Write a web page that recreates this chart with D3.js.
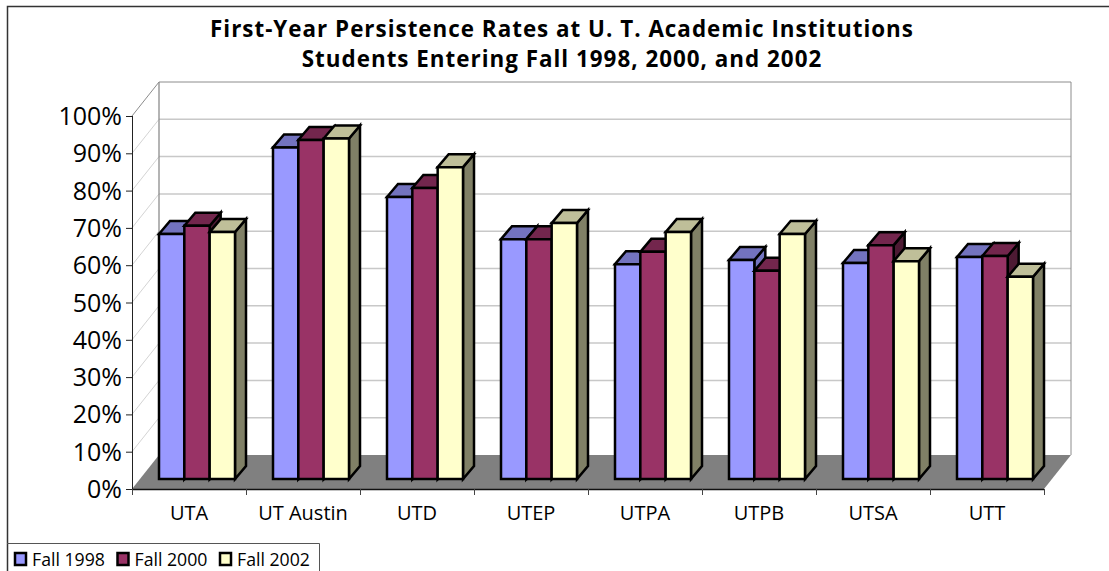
<!DOCTYPE html>
<html><head><meta charset="utf-8">
<script src="https://cdn.jsdelivr.net/npm/d3@7"></script>
<style>html,body{margin:0;padding:0;background:#fff;overflow:hidden}svg{display:block}</style>
</head><body><svg id="c" width="1109" height="571" font-family="'Open Sans','Noto Sans',sans-serif"></svg>
<script>
const titleLines = ["First-Year Persistence Rates at U. T. Academic Institutions","Students Entering Fall 1998, 2000, and 2002"];
const categories = ["UTA","UT Austin","UTD","UTEP","UTPA","UTPB","UTSA","UTT"];
const seriesNames = ["Fall 1998","Fall 2000","Fall 2002"];
const fall1998 = [65.7,88.9,75.6,64.3,57.6,58.7,57.9,59.5];
const fall2000 = [67.9,90.9,78.0,64.3,60.9,55.8,62.7,59.8];
const fall2002 = [66.2,91.3,83.6,68.6,66.2,65.7,58.4,54.2];
const seriesValues = [fall1998,fall2000,fall2002];
const yTicks = [0,10,20,30,40,50,60,70,80,90,100];
const frontColors = ["#9999ff","#993366","#ffffcc"];
const topColors = ["#7373bf","#73264d","#bfbf99"];
const sideColors = ["#7373bf","#4d1a33","#808066"];

const svg = d3.select("#c");
const x = d3.scaleBand().domain(categories).range([132,1044]).paddingInner(0).paddingOuter(0);
const y = d3.scaleLinear().domain([0,100]).range([489,116]);
const wallDx = 27, wallDy = -34, barInsetX = 8, barInsetY = -10, barDx = 11, barDy = -13;
const groupGap = 19;
const inner = d3.scaleBand().domain(d3.range(3)).range([groupGap, x.bandwidth()-groupGap]);

svg.append("path").attr("d","M7.5,571V6.5H1109").attr("fill","none").attr("stroke","#333").attr("stroke-width",1.5);
const x0=x.range()[0], x1=x.range()[1];
svg.append("rect").attr("x",x0+wallDx).attr("y",y(100)+wallDy).attr("width",x1-x0).attr("height",y(0)-y(100)).attr("fill","#fff");
const grid = svg.append("g");
yTicks.slice(1,-1).forEach(t=>{
  grid.append("line").attr("x1",x0).attr("y1",y(t)).attr("x2",x0+wallDx).attr("y2",y(t)+wallDy).attr("stroke","#d4d4d4").attr("stroke-width",1);
  grid.append("line").attr("x1",x0+wallDx).attr("y1",y(t)+wallDy).attr("x2",x1+wallDx).attr("y2",y(t)+wallDy).attr("stroke","#c8c8c8").attr("stroke-width",1.5);
});
svg.append("polygon").attr("points",[[x0,y(0)],[x0+wallDx,y(0)+wallDy],[x1+wallDx,y(0)+wallDy],[x1,y(0)]].join(" ")).attr("fill","#808080");
svg.append("path").attr("d",`M${x0},${y(100)}L${x0+wallDx},${y(100)+wallDy}H${x1+wallDx}V${y(0)+wallDy}`).attr("fill","none").attr("stroke","#8c8c8c").attr("stroke-width",1);
svg.append("path").attr("d",`M${x0+wallDx},${y(100)+wallDy}V${y(0)+wallDy}`).attr("fill","none").attr("stroke","#8c8c8c").attr("stroke-width",1.3);
categories.forEach((c,i)=>{
  const g = svg.append("g");
  seriesValues.forEach((vals,s)=>{
    const v = vals[i];
    const L = x(c)+inner(s)+barInsetX, W = inner.bandwidth();
    const B = y(0)+barInsetY, T = B-(y(0)-y(v));
    const add=(pts,fill)=>g.append("polygon").attr("points",pts.join(" ")).attr("fill",fill).attr("stroke","#000").attr("stroke-width",2.5).attr("stroke-linejoin","miter");
    add([[L+W,B],[L+W,T],[L+W+barDx,T+barDy],[L+W+barDx,B+barDy]],sideColors[s]);
    add([[L,T],[L+barDx,T+barDy],[L+W+barDx,T+barDy],[L+W,T]],topColors[s]);
    add([[L,T],[L+W,T],[L+W,B],[L,B]],frontColors[s]);
  });
});
const yAxis = d3.axisLeft(y).tickValues(yTicks).tickFormat(d=>d+"%").tickSize(6).tickPadding(4);
const ya = svg.append("g").attr("transform",`translate(${x0},0)`).call(yAxis);
ya.select(".domain").attr("d",`M0.5,${y(100)}V${y(0)}`).attr("stroke","#222");
ya.selectAll(".tick line").attr("stroke","#222");
ya.selectAll("text").attr("font-size",25).attr("dy","0.34em").attr("font-family","'Open Sans','Noto Sans',sans-serif").attr("fill","#000");
const xAxis = d3.axisBottom(x).tickSize(0).tickPadding(17);
const xa = svg.append("g").attr("transform",`translate(0,${y(0)})`).call(xAxis);
xa.select(".domain").attr("d",`M${x0},0.5H${x1}`).attr("stroke","#111").attr("stroke-width",1.5);
xa.selectAll("text").attr("font-size",20).attr("font-family","'Open Sans','Noto Sans',sans-serif").attr("fill","#000");
const xt = svg.append("g");
d3.range(categories.length+1).forEach(i=>{
  const px = i<categories.length ? x(categories[i]) : x1;
  xt.append("line").attr("x1",px+.5).attr("x2",px+.5).attr("y1",y(0)).attr("y2",y(0)+6).attr("stroke","#444");
});
svg.append("g").selectAll("text").data(titleLines).join("text")
  .attr("x",562).attr("y",(d,i)=>37+i*30).attr("text-anchor","middle")
  .attr("font-weight","bold").attr("font-size",22.4).attr("letter-spacing",1).attr("fill","#000").text(d=>d);
const leg = svg.append("g");
leg.append("path").attr("d","M7,543.5H319.5V571").attr("fill","none").attr("stroke","#555");
const lx = d3.scalePoint().domain(seriesNames).range([14,219]);
seriesNames.forEach((n,i)=>{
  leg.append("rect").attr("x",lx(n)+1).attr("y",553).attr("width",11).attr("height",12).attr("fill",frontColors[i]).attr("stroke","#000").attr("stroke-width",2.5);
  leg.append("text").attr("x",lx(n)+18).attr("y",566).attr("font-size",17.7).attr("fill","#000").text(n);
});
</script></body></html>
